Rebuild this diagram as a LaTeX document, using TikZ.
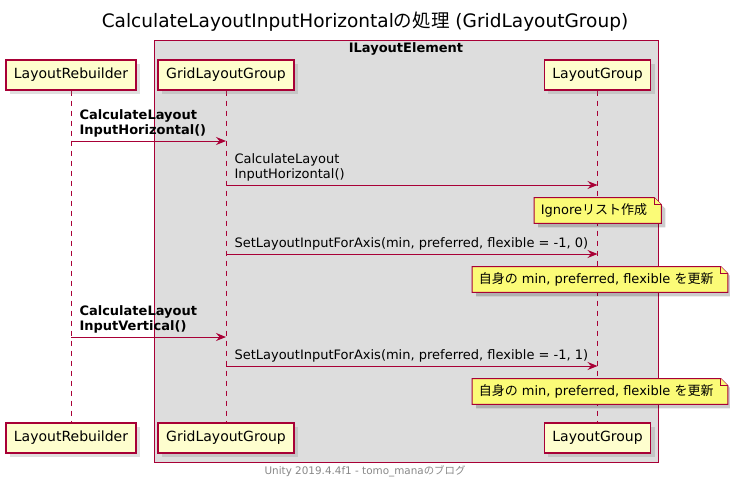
\documentclass[tikz,border=0pt]{standalone}
\usepackage{fontspec}
\setmainfont{DejaVu Sans}
\newfontfamily\jp{Noto Sans CJK JP}
\usetikzlibrary{arrows.meta,positioning,shadows}
\definecolor{umlred}{HTML}{A80036}
\definecolor{partfill}{HTML}{FEFECE}
\definecolor{notefill}{HTML}{FBFB77}
\definecolor{boxfill}{HTML}{DDDDDD}
\definecolor{footgray}{HTML}{888888}
\pgfdeclarelayer{back}
\pgfdeclarelayer{notes}
\pgfsetlayers{back,notes,main}
% folded-corner frame behind a note node
\newcommand\dogear[1]{%
  \fill[black,opacity=0.2] ([xshift=3pt,yshift=-3pt]#1.north west) -- ([xshift=3.35pt,yshift=-3pt]#1.north east)
    -- ([xshift=8.6pt,yshift=-8.25pt]#1.north east) -- ([xshift=8.6pt,yshift=-3pt]#1.south east)
    -- ([xshift=3pt,yshift=-3pt]#1.south west) -- cycle;
  \filldraw[noteframe] (#1.north west) -- ([xshift=0.35pt]#1.north east)
    -- ([xshift=5.6pt,yshift=-5.25pt]#1.north east) -- ([xshift=5.6pt]#1.south east)
    -- (#1.south west) -- cycle;
  \draw[noteframe] ([xshift=0.35pt]#1.north east) |- ([xshift=5.6pt,yshift=-5.25pt]#1.north east);}

\begin{document}
\begin{tikzpicture}[x=0.75pt,y=-0.75pt,
    part/.style={draw=umlred,fill=partfill,line width=1.1pt,minimum height=22.5pt,inner xsep=6pt,
      font=\fontsize{10.5}{12}\selectfont,
      drop shadow={shadow xshift=3pt,shadow yshift=-3pt,opacity=0.25}},
    life/.style={draw=umlred,dash pattern=on 3.75pt off 3.75pt,line width=0.75pt},
    msg/.style={draw=umlred,line width=0.75pt,-{Stealth[length=7.5pt,width=6pt,inset=2.6pt]}},
    lbl/.style={anchor=south west,inner sep=0pt,xshift=6pt,yshift=2.5pt,align=left,
      font=\fontsize{9.75}{11.25}\selectfont},
    note/.style={anchor=west,inner xsep=4.9pt,inner ysep=0pt,minimum height=18.75pt,
      font=\fontsize{9.75}{11.25}\selectfont},
    noteframe/.style={draw=umlred,fill=notefill,line width=0.75pt},
    grp/.style={draw=umlred,fill=boxfill,line width=0.75pt}]
    \useasboundingbox (0,0) rectangle (730,482);

    \node[font=\fontsize{13.9}{16}\selectfont] (title) at (365,22)
      {CalculateLayoutInputHorizontal{\jp の処理} (GridLayoutGroup)};

    % participants, top and bottom
    \node[part] (lr) at (71,75) {LayoutRebuilder};
    \node[part] (glg) at (226,75) {GridLayoutGroup};
    \node[part] (lg) at (597.5,75) {LayoutGroup};
    \node[part] (lrb) at (71,438) {LayoutRebuilder};
    \node[part] (glgb) at (226,438) {GridLayoutGroup};
    \node[part] (lgb) at (597.5,438) {LayoutGroup};

    % message rows
    \path (0,141) coordinate (y1) (0,185) coordinate (y2) (0,254) coordinate (y3)
          (0,337) coordinate (y4) (0,366) coordinate (y5);

    \draw[msg] (lr |- y1) -- (glg |- y1)
      node[pos=0,lbl,font=\bfseries\fontsize{9.75}{11.25}\selectfont] {CalculateLayout\\InputHorizontal()};
    \draw[msg] (glg |- y2) -- (lg |- y2)
      node[pos=0,lbl] {CalculateLayout\\InputHorizontal()};
    \node[note] (n1) at (534,210.5) {Ignore{\jp リスト作成}};
    \draw[msg] (glg |- y3) -- (lg |- y3)
      node[pos=0,lbl] {SetLayoutInputForAxis(min, preferred, flexible = -1, 0)};
    \node[note] (n2) at (472,279.5) {{\jp 自身の} min, preferred, flexible {\jp を更新}};
    \draw[msg] (lr |- y4) -- (glg |- y4)
      node[pos=0,lbl,font=\bfseries\fontsize{9.75}{11.25}\selectfont] {CalculateLayout\\InputVertical()};
    \draw[msg] (glg |- y5) -- (lg |- y5)
      node[pos=0,lbl] {SetLayoutInputForAxis(min, preferred, flexible = -1, 1)};
    \node[note] (n3) at (472,391.5) {{\jp 自身の} min, preferred, flexible {\jp を更新}};

    \begin{pgfonlayer}{notes}
      \dogear{n1}
      \dogear{n2}
      \dogear{n3}
    \end{pgfonlayer}

    \begin{pgfonlayer}{back}
      \node[grp,minimum width=378pt,minimum height=316.5pt,inner sep=0pt] (ile) at (406,251) {};
      \node[anchor=north,inner sep=2.5pt,font=\bfseries\fontsize{9.75}{11.25}\selectfont] (ilel) at (ile.north) {ILayoutElement};
      \draw[life] (lr) -- (lrb);
      \draw[life] (glg) -- (glgb);
      \draw[life] (lg) -- (lgb);
    \end{pgfonlayer}

    \node[text=footgray,font=\fontsize{7.8}{9}\selectfont] (foot) at (365,471)
      {Unity 2019.4.4f1 - tomo\_mana{\jp のブログ}};
\end{tikzpicture}
\end{document}
